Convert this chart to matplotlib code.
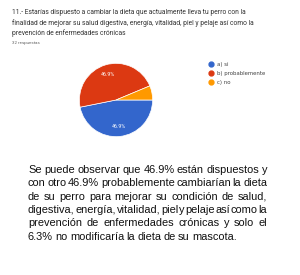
import matplotlib
matplotlib.use("Agg")
from matplotlib import pyplot as plt
from matplotlib.lines import Line2D

labels = ["a) si", "b) probablemente", "c) no"]
values = [46.9, 46.9, 6.3]
colors = ["#3366CC", "#DC3912", "#FF9900"]

title_lines = [
    "11.- Estarías dispuesto a cambiar la dieta que actualmente lleva tu perro con la",
    "finalidad de mejorar su salud digestiva, energía, vitalidad, piel y pelaje así como la",
    "prevención de enfermedades crónicas",
]
n_resp = "32 respuestas"

body_lines = [
    "Se puede observar que 46.9% están dispuestos y",
    "con otro 46.9% probablemente  cambiarían la dieta",
    "de su perro para mejorar su condición de salud,",
    "digestiva, energía, vitalidad, piel y pelaje así como la",
    "prevención de enfermedades crónicas y solo el",
    "6.3% no modificaría la dieta de su mascota.",
]

W, H = 300, 275
fig = plt.figure(figsize=(3, 2.75), dpi=100)
fig.patch.set_facecolor("white")

# header of the form card
for i, line in enumerate(title_lines):
    fig.text(12 / W, 1 - (13 + i * 10) / H, line, fontsize=4.85, family="Roboto",
             color="#333333", va="center", ha="left")
fig.text(12 / W, 1 - 43 / H, n_resp, fontsize=3.2, family="Roboto",
         color="#666666", va="center", ha="left")

# pie
ax = fig.add_axes([79 / W, 1 - 137 / H, 74 / W, 74 / H])
wedges, texts, autotexts = ax.pie(values, colors=colors, startangle=0, counterclock=False,
                                  autopct=lambda p: f"{p:.1f}%" if p > 10 else "",
                                  pctdistance=0.72,
                                  wedgeprops=dict(edgecolor="white", linewidth=0.5))
for t in autotexts:
    t.set_color("white")
    t.set_fontsize(3.8)
    t.set_family("Roboto")
ax.set_aspect("equal")
ax.set_xlim(-1.01, 1.01)
ax.set_ylim(-1.01, 1.01)

handles = [Line2D([], [], marker="o", linestyle="", markersize=3.5,
                  markerfacecolor=c, markeredgecolor=c) for c in colors]
fig.legend(handles, labels, loc="upper left", bbox_to_anchor=(207 / W, 1 - 59 / H),
           frameon=False, fontsize=3.9, handlelength=0.5, handletextpad=0.9,
           labelspacing=0.75, borderpad=0, labelcolor="#444444")

# justified paragraph
renderer = fig.canvas.get_renderer()
x0, x1 = 28, 267
for i, line in enumerate(body_lines):
    y = 1 - (170 + i * 13.3) / H
    words = line.split()
    items = []
    for w in words:
        t = fig.text(0, y, w, fontsize=7.9, family="Liberation Sans",
                     color="#111111", va="center", ha="left")
        items.append((t, t.get_window_extent(renderer).width))
    total = sum(wd for _, wd in items)
    if i < len(body_lines) - 1 and len(items) > 1:
        gap = (x1 - x0 - total) / (len(items) - 1)
    else:
        gap = 2.3
    x = x0
    for t, wd in items:
        t.set_x(x / W)
        x += wd + gap

fig.savefig("out.png", dpi=100, facecolor="white")
